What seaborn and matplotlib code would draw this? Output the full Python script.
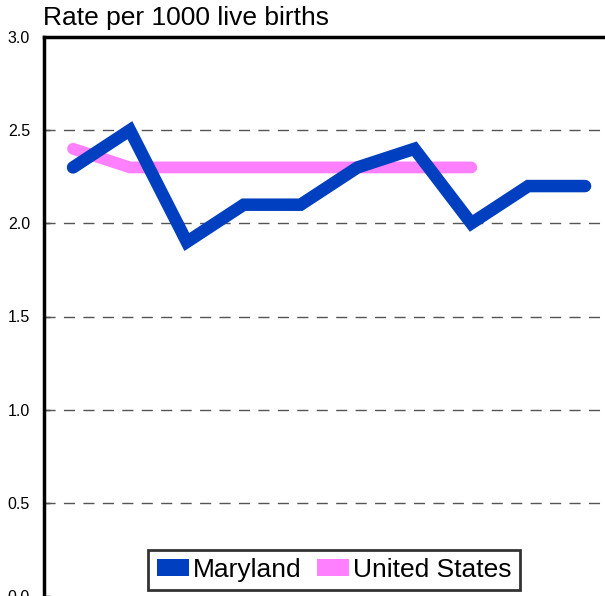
import numpy as np
import pandas as pd
import seaborn as sns
import matplotlib.pyplot as plt
from matplotlib.patches import Patch

# data
years = [1995, 1996, 1997, 1998, 1999, 2000, 2001, 2002, 2003, 2004]
maryland = [2.3, 2.5, 1.9, 2.1, 2.1, 2.3, 2.4, 2.0, 2.2, 2.2]
us_years = years[:8]
united_states = [2.4, 2.3, 2.3, 2.3, 2.3, 2.3, 2.3, 2.3]
y_ticks = [0.0, 0.5, 1.0, 1.5, 2.0, 2.5, 3.0]

df = pd.concat([
    pd.DataFrame({"year": years, "rate": maryland, "area": "Maryland"}),
    pd.DataFrame({"year": us_years, "rate": united_states, "area": "United States"}),
])

sns.set_theme(style="white")
plt.rcParams['font.family'] = ['Liberation Sans', 'DejaVu Sans']
plt.rcParams['text.color'] = 'black'
plt.rcParams['ytick.color'] = 'black'

colors = {"Maryland": "#0040C0", "United States": "#FF80FF"}

fig = plt.figure(figsize=(6.05, 5.96), dpi=100)
ax = fig.add_axes([44 / 605, 0.0, 1 - 44 / 605, 1 - 37 / 596])

# pink first so blue sits on top
sns.lineplot(data=df[df.area == "United States"], x="year", y="rate",
             color=colors["United States"], linewidth=8.5,
             solid_capstyle="round", solid_joinstyle="miter", ax=ax, zorder=3)
sns.lineplot(data=df[df.area == "Maryland"], x="year", y="rate",
             color=colors["Maryland"], linewidth=9,
             solid_capstyle="round", solid_joinstyle="miter", ax=ax, zorder=4)

ax.set_ylim(0, 3.0)
ax.set_xlim(years[0] - 0.51, years[0] + 9.35)
ax.set_yticks(y_ticks)
ax.set_yticklabels([f"{v:.1f}" for v in y_ticks], fontsize=11.5, color="black")
ax.set_xticks([])
ax.tick_params(axis="y", direction="in", length=4, width=1, color="black",
               pad=10, left=True)
ax.set_xlabel("")
ax.set_ylabel("")

for v in y_ticks[1:-1]:
    ax.axhline(v, color="#555555", linewidth=1, linestyle=(0, (8, 6)), zorder=1)

for side in ["left", "top"]:
    ax.spines[side].set_visible(True)
    ax.spines[side].set_color("black")
    ax.spines[side].set_linewidth(2.5)
ax.spines["right"].set_visible(False)
ax.spines["bottom"].set_visible(False)

fig.text(43 / 605, 1 - 25 / 596, "Rate per 1000 live births",
         fontsize=19, ha="left", va="baseline", color="black")

handles = [Patch(facecolor=colors[k], edgecolor="none", label=k) for k in colors]
leg = fig.legend(handles=handles, loc="center", ncol=2,
                 bbox_to_anchor=(334 / 605, 1 - 570 / 596),
                 fontsize=19, frameon=True, fancybox=False,
                 handlelength=1.2, handleheight=0.6, handletextpad=0.15,
                 columnspacing=0.6, borderpad=0.32, borderaxespad=0,
                 labelcolor="black")
leg.get_frame().set_edgecolor("black")
leg.get_frame().set_linewidth(2)

fig.savefig("out.png", dpi=100)
